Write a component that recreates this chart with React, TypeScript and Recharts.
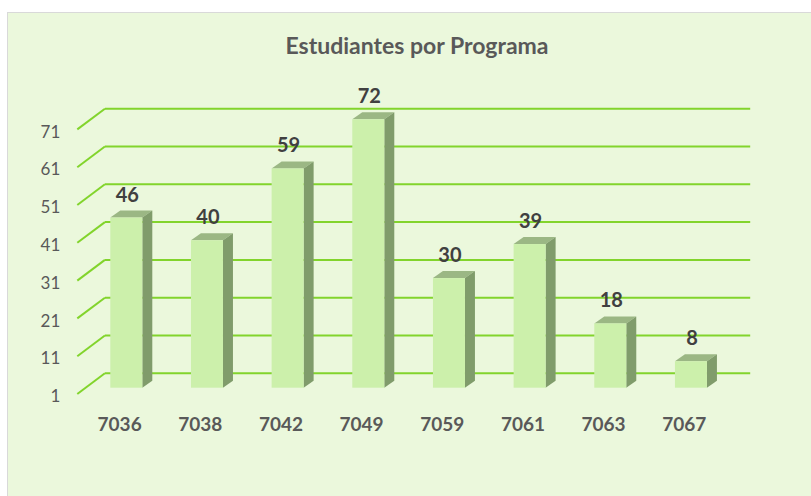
import { BarChart, Bar, XAxis, YAxis, CartesianGrid, LabelList } from "recharts";

const programas = ["7036", "7038", "7042", "7049", "7059", "7061", "7063", "7067"];
const estudiantes = [46, 40, 59, 72, 30, 39, 18, 8];
const yTicks = [1, 11, 21, 31, 41, 51, 61, 71];

const data = programas.map((programa, i) => ({ programa, estudiantes: estudiantes[i] }));

// 3d look: depth of a bar, and offset of the back wall from the bar plane
const DX = 10;
const DY = 7;
const BACK_X = 18.6;
const BACK_Y = 14.4;
const PLOT_LEFT = 86.3;
const PLOT_TOP = 85.3;

const FRONT = "#ccf0ab";
const SIDE = "#809c6b";
const TOP = "#9bb784";
const GRID = "#82d42c";
const FONT = "Lato, 'Open Sans', sans-serif";

function Bar3D(props: any) {
  const { x, y, width, height } = props;
  if (!height) return null;
  return (
    <g>
      <polygon
        points={`${x},${y} ${x + DX},${y - DY} ${x + width + DX},${y - DY} ${x + width},${y}`}
        fill={TOP}
      />
      <polygon
        points={`${x + width},${y} ${x + width + DX},${y - DY} ${x + width + DX},${y + height - DY} ${x + width},${y + height}`}
        fill={SIDE}
      />
      <rect x={x} y={y} width={width} height={height} fill={FRONT} />
    </g>
  );
}

function BackGridLine(props: any) {
  const { x1, x2, y1 } = props;
  // no line at the top edge of the plot (value 81 is not a tick)
  if (y1 < PLOT_TOP + 2) return <g key={props.key} />;
  return (
    <line
      key={props.key}
      x1={x1 + BACK_X}
      x2={x2 + BACK_X}
      y1={y1 - BACK_Y}
      y2={y1 - BACK_Y}
      stroke={GRID}
      strokeWidth={2}
    />
  );
}

function YTick(props: any) {
  const { y, payload } = props;
  return (
    <g>
      <line
        x1={PLOT_LEFT - 9}
        y1={y + 6.3}
        x2={PLOT_LEFT + BACK_X}
        y2={y - BACK_Y}
        stroke={GRID}
        strokeWidth={2}
      />
      <text
        x={PLOT_LEFT - 26}
        y={y + 8}
        textAnchor="end"
        dominantBaseline="central"
        fill="#595959"
        fontSize={17}
        fontFamily={FONT}
      >
        {payload.value}
      </text>
    </g>
  );
}

function XTick(props: any) {
  const { x, payload } = props;
  return (
    <text
      x={x - 7}
      y={423}
      textAnchor="middle"
      dominantBaseline="central"
      fill="#595959"
      fontSize={19}
      fontWeight="bold"
      fontFamily={FONT}
    >
      {payload.value}
    </text>
  );
}

function ValueLabel(props: any) {
  const { x, y, width, value } = props;
  return (
    <text
      x={x + width / 2 + 1}
      y={y - 24}
      textAnchor="middle"
      dominantBaseline="central"
      fill="#404040"
      fontSize={20}
      fontWeight="bold"
      fontFamily={FONT}
    >
      {value}
    </text>
  );
}

export default function App() {
  return (
    <div style={{ position: "absolute", left: 0, top: 0, width: 811, height: 496, background: "#fff", overflow: "hidden" }}>
      <div
        style={{
          position: "absolute",
          left: 7,
          top: 12,
          width: 840,
          height: 520,
          background: "#ebf8dc",
          border: "1.5px solid #d9d9d9",
        }}
      />
      <div
        style={{
          position: "absolute",
          left: 0,
          top: 31,
          width: 834,
          textAlign: "center",
          fontFamily: FONT,
          fontWeight: "bold",
          fontSize: 23,
          lineHeight: "28px",
          color: "#595959",
        }}
      >
        Estudiantes por Programa
      </div>
      <div style={{ position: "absolute", left: 0, top: 0 }}>
        <BarChart
          width={811}
          height={496}
          data={data}
          margin={{ top: PLOT_TOP, right: 79.4, bottom: 78.3, left: 0 }}
        >
          <CartesianGrid vertical={false} horizontal={BackGridLine} />
          <XAxis
            dataKey="programa"
            height={30}
            axisLine={false}
            tickLine={false}
            interval={0}
            tick={XTick}
          />
          <YAxis
            width={PLOT_LEFT}
            domain={[1, 81]}
            ticks={yTicks}
            interval={0}
            axisLine={false}
            tickLine={false}
            tick={YTick}
          />
          <Bar dataKey="estudiantes" barSize={32} shape={Bar3D} isAnimationActive={false}>
            <LabelList dataKey="estudiantes" content={ValueLabel} />
          </Bar>
        </BarChart>
      </div>
    </div>
  );
}
